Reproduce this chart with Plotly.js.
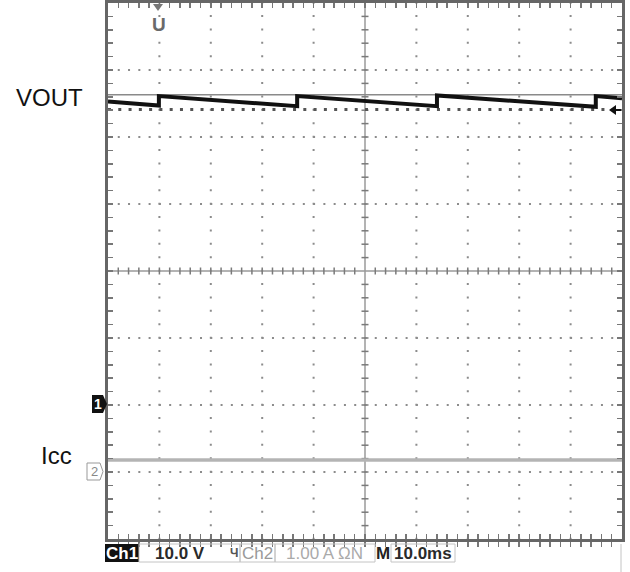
<!DOCTYPE html>
<html>
<head>
<meta charset="utf-8">
<script src="https://cdn.plot.ly/plotly-3.0.1.min.js"></script>
<style>html,body{margin:0;padding:0;background:#fff;}#chart{width:630px;height:572px;}</style>
</head>
<body>
<div id="chart"></div>
<script>
// ---- data ----
// Ch1 VOUT (volts, 10 V/div, ground at -2 div), time in ms (10 ms/div)
const voutTime = [0, 9.9, 9.9, 36.8, 36.8, 64.0, 64.0, 94.9, 94.9, 100];
const voutVolts = [45.3, 44.7, 46.1, 44.6, 46.1, 44.6, 46.2, 44.5, 46.1, 45.8];
// upper reference line and dotted lower line around VOUT
const refTime = [0, 100];
const refUpperVolts = [46.3, 46.3];
const refLowerVolts = [44.1, 44.1];
// Ch2 Icc (amps, 1 A/div, ground at -3 div)
const iccTime = [0, 10, 20, 30, 40, 50, 60, 70, 80, 90, 100];
const iccAmps = [0.18, 0.18, 0.17, 0.18, 0.18, 0.18, 0.18, 0.17, 0.18, 0.18, 0.18];
// labels
const traceLabels = ["VOUT", "Icc"];
const statusTexts = ["Ch1", "10.0 V", "Ч", "Ch2", "1.00 A ΩN", "M", "10.0ms"];

// ---- helpers ----
const L = 108, R = 622, T = 3, B = 539;
const pX = x => (x - L) / (R - L);
const pY = y => (B - y) / (B - T);

const shapes = [];
const annotations = [];

// grid: dotted major lines
const hLines = [-10, 0, 10, 30, 40, 50];
const vLines = [10, 20, 30, 40, 60, 70, 80, 90];
hLines.forEach(v => shapes.push({type:'line', xref:'x', yref:'y', x0:-0.1, x1:100, y0:v, y1:v, layer:'below',
  line:{color:'#8c8c8c', width:2, dash:'2px,8.28px'}}));
vLines.forEach(t => shapes.push({type:'line', xref:'x', yref:'y', x0:t, x1:t, y0:-20.1, y1:60, layer:'below',
  line:{color:'#8c8c8c', width:2, dash:'2px,11.4px'}}));
// center crosshair
shapes.push({type:'line', xref:'x', yref:'y', x0:0, x1:100, y0:20, y1:20, layer:'below', line:{color:'#9a9a9a', width:1.5}});
shapes.push({type:'line', xref:'x', yref:'y', x0:50, x1:50, y0:-20, y1:60, layer:'below', line:{color:'#9a9a9a', width:1.5}});
for (let t = 2; t < 100; t += 2) {
  if (t === 50) continue;
  shapes.push({type:'line', xref:'x', yref:'y', ysizemode:'pixel', yanchor:20, y0:-3.5, y1:3.5, x0:t, x1:t, layer:'below',
    line:{color:'#7a7a7a', width:1.5}});
}
for (let v = -18; v < 60; v += 2) {
  if (v === 20) continue;
  shapes.push({type:'line', xref:'x', yref:'y', xsizemode:'pixel', xanchor:50, x0:-3.5, x1:3.5, y0:v, y1:v, layer:'below',
    line:{color:'#7a7a7a', width:1.5}});
}

// channel 1 marker (black, pointing right)
shapes.push({type:'path', xref:'paper', yref:'paper', fillcolor:'#111', line:{width:0},
  path:`M${pX(92)},${pY(395)} L${pX(103)},${pY(395)} L${pX(107)},${pY(404)} L${pX(103)},${pY(413)} L${pX(92)},${pY(413)} Z`});
annotations.push({xref:'paper', yref:'paper', x:pX(98), y:pY(404), text:'<b>1</b>', showarrow:false,
  font:{family:'Liberation Sans', size:14, color:'#fff'}, xanchor:'center', yanchor:'middle'});
// channel 2 marker (outlined)
shapes.push({type:'path', xref:'paper', yref:'paper', line:{color:'#999', width:1},
  path:`M${pX(87)},${pY(463)} L${pX(100)},${pY(463)} L${pX(103)},${pY(471.5)} L${pX(100)},${pY(480)} L${pX(87)},${pY(480)} Z`});
annotations.push({xref:'paper', yref:'paper', x:pX(94), y:pY(471.5), text:'2', showarrow:false,
  font:{family:'Liberation Sans', size:13, color:'#888'}, xanchor:'center', yanchor:'middle'});
// trigger position marker (top)
shapes.push({type:'path', xref:'paper', yref:'paper', fillcolor:'#777', line:{width:0},
  path:`M${pX(153)},${pY(4)} L${pX(163)},${pY(4)} L${pX(158)},${pY(11)} Z`});
annotations.push({xref:'paper', yref:'paper', x:pX(159), y:pY(25), text:'<b>U</b>', showarrow:false,
  font:{family:'Liberation Sans', size:19, color:'#6a6a6a'}, xanchor:'center', yanchor:'middle'});
// trigger level arrow (right)
shapes.push({type:'path', xref:'paper', yref:'paper', fillcolor:'#111', line:{width:0},
  path:`M${pX(609)},${pY(110)} L${pX(616)},${pY(105)} L${pX(616)},${pY(115)} Z`});
shapes.push({type:'line', xref:'paper', yref:'paper', x0:pX(615), x1:pX(621), y0:pY(110), y1:pY(110), line:{color:'#111', width:2}});

// channel labels
annotations.push({xref:'paper', yref:'paper', x:pX(49.5), y:pY(97), text:traceLabels[0], showarrow:false,
  font:{family:'Liberation Sans', size:24, color:'#111'}, xanchor:'center', yanchor:'middle'});
annotations.push({xref:'paper', yref:'paper', x:pX(56), y:pY(455), text:traceLabels[1], showarrow:false,
  font:{family:'Liberation Sans', size:24, color:'#111'}, xanchor:'center', yanchor:'middle'});

// status bar
shapes.push({type:'rect', xref:'paper', yref:'paper', x0:pX(105), x1:pX(139), y0:pY(544), y1:pY(562), fillcolor:'#111', line:{width:0}});
[[139,240],[240,275],[275,375],[391,455]].forEach(b => shapes.push({type:'rect', xref:'paper', yref:'paper',
  x0:pX(b[0]), x1:pX(b[1]), y0:pY(544), y1:pY(562), line:{color:'#c4c4c4', width:1}}));
shapes.push({type:'line', xref:'paper', yref:'paper', x0:pX(621), x1:pX(621), y0:pY(544), y1:pY(572), line:{color:'#c4c4c4', width:1}});
const statusPos = [[122,'#fff',true],[180,'#2a2a2a',true],[234,'#555',true],[257,'#999',false],[324,'#aaa',false],[383,'#222',true],[423,'#2a2a2a',true]];
statusTexts.forEach((s, i) => {
  const p = statusPos[i];
  annotations.push({xref:'paper', yref:'paper', x:pX(p[0]), y:pY(553), text:p[2] ? '<b>'+s+'</b>' : s, showarrow:false,
    font:{family:'Liberation Sans', size:i===2?12:17, color:p[1]}, xanchor:'center', yanchor:'middle'});
});

const traces = [
  {x:refTime, y:refUpperVolts, type:'scatter', mode:'lines', line:{color:'#8a8a8a', width:1.5}, hoverinfo:'skip'},
  {x:refTime, y:refLowerVolts, type:'scatter', mode:'lines', line:{color:'#555', width:3, dash:'3px,7.28px'}, hoverinfo:'skip'},
  {x:voutTime, y:voutVolts, type:'scatter', mode:'lines', line:{color:'#111', width:4}, name:'VOUT'},
  {x:iccTime, y:iccAmps, type:'scatter', mode:'lines', yaxis:'y2', line:{color:'#b4b4b4', width:3.5}, name:'Icc'}
];

const axBase = {showgrid:false, zeroline:false, showticklabels:false, ticks:'inside', ticklen:5, tickwidth:1.5,
  tickcolor:'#777', showline:true, linecolor:'#666', linewidth:3, mirror:'allticks', fixedrange:true};

const layout = {
  width:630, height:572,
  margin:{l:L, r:630-R, t:T, b:572-B, pad:0},
  paper_bgcolor:'#fff', plot_bgcolor:'#fff',
  showlegend:false,
  xaxis:Object.assign({}, axBase, {range:[0,100], tick0:0, dtick:2}),
  yaxis:Object.assign({}, axBase, {range:[-20,60], tick0:0, dtick:2}),
  yaxis2:{overlaying:'y', range:[-1,7], visible:false, fixedrange:true},
  shapes:shapes,
  annotations:annotations
};

Plotly.newPlot('chart', traces, layout, {staticPlot:true, displayModeBar:false});
</script>
</body>
</html>
